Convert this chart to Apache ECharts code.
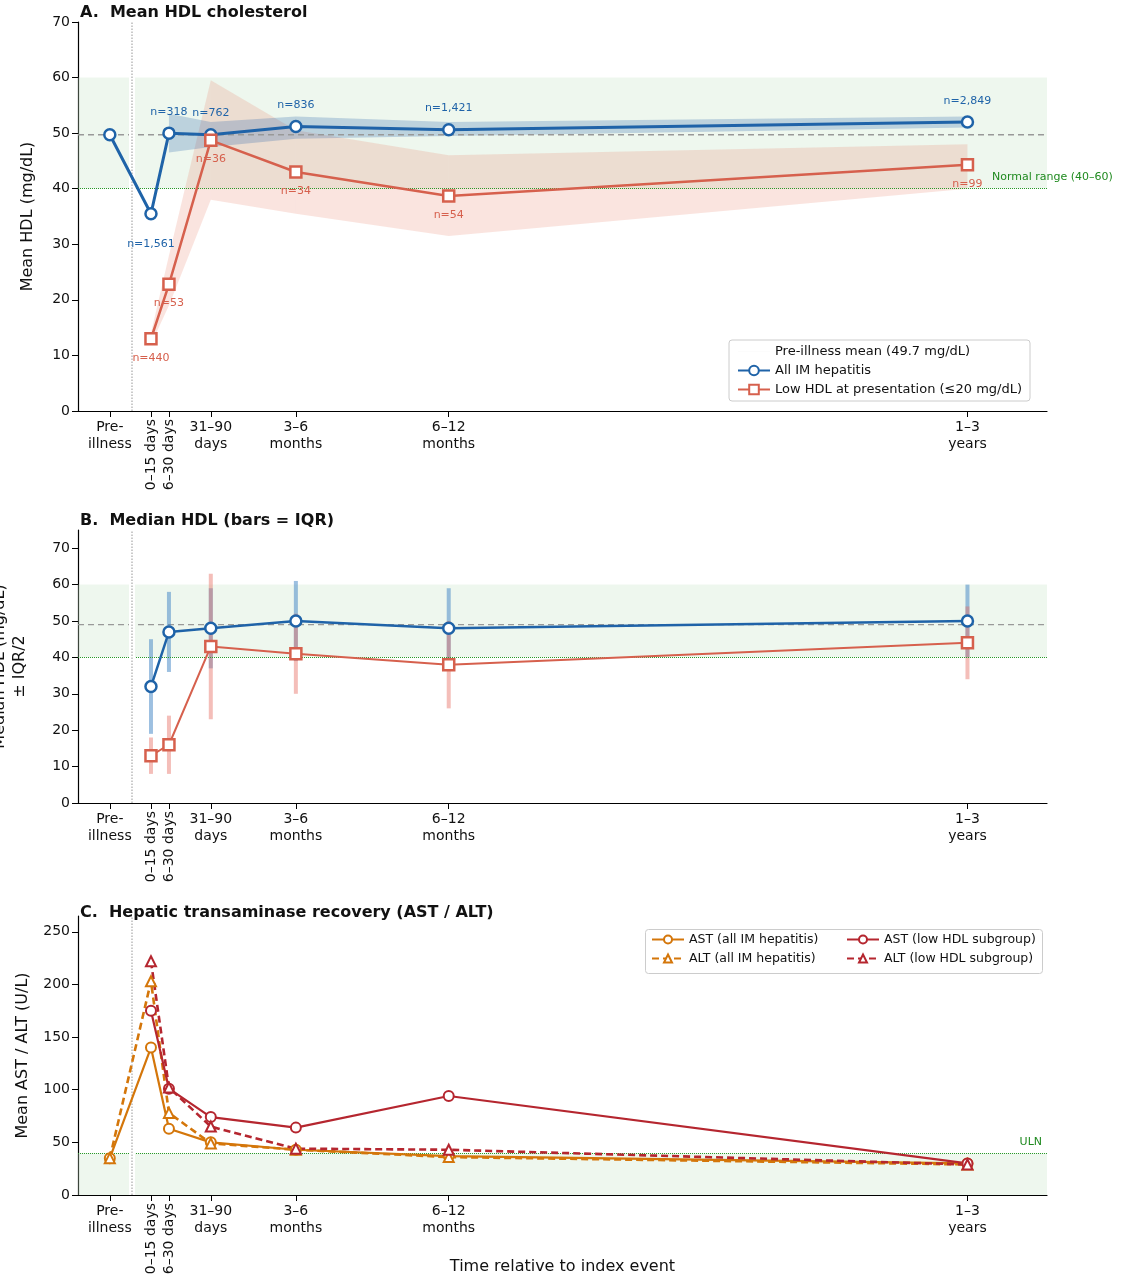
<!DOCTYPE html>
<html><head><meta charset="utf-8">
<script src="https://cdn.jsdelivr.net/npm/echarts@6/dist/echarts.min.js"></script>
<style>html,body{margin:0;background:#fff}#c{width:1125px;height:1280px}</style></head>
<body><div id="c"></div>
<script>
// x positions (plot units, roughly months) and tick labels
const xPos = [-0.8, 0.39, 0.91, 2.12, 4.58, 9.0, 24.0];
const xLabels = ['Pre-\nillness', '0–15 days', '6–30 days', '31–90\ndays', '3–6\nmonths', '6–12\nmonths', '1–3\nyears'];
const xMin = -1.72, xMax = 26.3, indexX = -0.16;

// Panel A
const hdlAll = [49.7, 35.5, 50.0, 49.7, 51.2, 50.6, 52.0];
const hdlAllN = ['', 'n=1,561', 'n=318', 'n=762', 'n=836', 'n=1,421', 'n=2,849'];
const hdlAllLo = [null, null, 46.5, 47.5, 49.0, 49.5, 51.0];
const hdlAllHi = [null, null, 53.5, 52.0, 53.0, 52.0, 53.0];
const hdlLow = [null, 13.0, 22.8, 48.7, 43.0, 38.7, 44.3];
const hdlLowN = ['', 'n=440', 'n=53', 'n=36', 'n=34', 'n=54', 'n=99'];
const hdlLowLo = [null, 12.0, 19.0, 38.0, 35.5, 31.5, 40.0];
const hdlLowHi = [null, 14.0, 28.0, 59.5, 50.5, 46.0, 48.0];
const preMeanA = 49.7;

// Panel B
const medAll = [null, 32, 47, 48, 50, 48, 50];
const iqrAllLo = [null, 19, 36, 37, 39, 37, 40];
const iqrAllHi = [null, 45, 58, 59, 61, 59, 60];
const medLow = [null, 13, 16, 43, 41, 38, 44];
const iqrLowLo = [null, 8, 8, 23, 30, 26, 34];
const iqrLowHi = [null, 18, 24, 63, 52, 50, 54];
const preMedB = 49;

// Panel C
const astAll = [35, 140, 63, 50, 43, 37, 30];
const altAll = [35, 203, 78, 49, 43, 36, 29];
const astLow = [null, 175, 101, 74, 64, 94, 30];
const altLow = [null, 222, 102, 65, 44, 43, 29];
const uln = 40;

const FONT = 'DejaVu Sans';
const BLUE = '#1f63a8', RED = '#d6604d', ORANGE = '#d4760a', DRED = '#b5262f';
const pts = arr => arr.map((v, i) => v == null ? null : [xPos[i], v]).filter(Boolean);

const grids = [
  {left: 78, right: 78, top: 22, height: 389, outerBoundsMode: 'none', containLabel: false},
  {left: 78, right: 78, top: 530, height: 273, outerBoundsMode: 'none', containLabel: false},
  {left: 78, right: 78, top: 916, height: 279, outerBoundsMode: 'none', containLabel: false}
];
const xAxes = [], yAxes = [];
grids.forEach((g, gi) => {
  xAxes.push({type: 'value', gridIndex: gi, min: xMin, max: xMax,
    axisLine: {show: true, onZero: false, lineStyle: {color: '#000', width: 1.2}},
    axisTick: {show: true, length: 6, customValues: xPos, lineStyle: {color: '#000'}},
    axisLabel: {customValues: [xPos[0], xPos[3], xPos[4], xPos[5], xPos[6]], fontFamily: FONT, fontSize: 14, color: '#111', lineHeight: 17,
      formatter: v => xLabels[xPos.indexOf(v)]},
    splitLine: {show: false},
    name: gi === 2 ? 'Time relative to index event' : '', nameLocation: 'middle', nameGap: 64,
    nameTextStyle: {fontFamily: FONT, fontSize: 16, color: '#111'}});
  xAxes.push({type: 'value', gridIndex: gi, min: xMin, max: xMax, position: 'bottom',
    axisLine: {show: false, onZero: false}, axisTick: {show: false}, splitLine: {show: false},
    axisLabel: {customValues: [xPos[1], xPos[2]], rotate: 90, fontFamily: FONT, fontSize: 14, color: '#111', margin: 8,
      formatter: v => xLabels[xPos.indexOf(v)]}});
});
const yCfg = [
  {max: 70, name: 'Mean HDL (mg/dL)', gap: 40, interval: 10},
  {max: 75, name: 'Median HDL (mg/dL)\n± IQR/2', gap: 48, interval: 10},
  {max: 265, name: 'Mean AST / ALT (U/L)', gap: 44, interval: 50}
];
yCfg.forEach((c, gi) => yAxes.push({type: 'value', gridIndex: gi, min: 0, max: c.max, interval: c.interval,
  axisLine: {show: true, onZero: false, lineStyle: {color: '#000', width: 1.2}},
  axisTick: {show: true, length: 6, lineStyle: {color: '#000'}},
  axisLabel: {fontFamily: FONT, fontSize: 14, color: '#111', showMaxLabel: c.max % c.interval === 0},
  splitLine: {show: false}, name: c.name, nameLocation: 'middle', nameGap: c.gap,
  nameTextStyle: {fontFamily: FONT, fontSize: 16, color: '#111', lineHeight: 20}}));

const series = [];
function band(gi, lo, hi, color) {
  const segs = [];
  const idx = lo.map((v, i) => v == null ? -1 : i).filter(i => i >= 0);
  for (let k = 0; k < idx.length - 1; k++) {
    const a = idx[k], b = idx[k + 1];
    segs.push([xPos[a], lo[a], hi[a], xPos[b], lo[b], hi[b]]);
  }
  series.push({type: 'custom', xAxisIndex: gi * 2, yAxisIndex: gi, data: segs, silent: true, z: 1,
    renderItem: (p, api) => {
      const p1 = api.coord([api.value(0), api.value(1)]), p2 = api.coord([api.value(3), api.value(4)]);
      const p3 = api.coord([api.value(3), api.value(5)]), p4 = api.coord([api.value(0), api.value(2)]);
      return {type: 'polygon', shape: {points: [p1, p2, p3, p4]}, style: {fill: color}};
    }});
}
function guides(gi, lo, hi, lineY, lineLabel, labelPos) {
  series.push({type: 'line', xAxisIndex: gi * 2, yAxisIndex: gi, data: [], silent: true, z: 0,
    markArea: {silent: true, itemStyle: {color: 'rgba(200,228,200,0.3)'}, data: [[{yAxis: lo, xAxis: xMin}, {yAxis: hi, xAxis: xMax}]]},
    markLine: {silent: true, symbol: 'none', lineStyle: {color: '#2a9a2a', type: 'dotted', width: 1},
      label: {show: !!lineLabel, formatter: lineLabel || '', position: labelPos, color: '#1f8a1f', fontFamily: FONT, fontSize: 11},
      data: [{yAxis: lineY}]}});
}
function indexLine(gi) {
  series.push({type: 'line', xAxisIndex: gi * 2, yAxisIndex: gi, data: [], silent: true, z: 20,
    markLine: {silent: true, symbol: 'none', label: {show: false}, lineStyle: {color: '#fff', type: 'solid', width: 6}, data: [{xAxis: indexX}]}});
  series.push({type: 'line', xAxisIndex: gi * 2, yAxisIndex: gi, data: [], silent: true, z: 21,
    markLine: {silent: true, symbol: 'none', label: {show: false}, lineStyle: {color: '#bbb', type: 'dotted', width: 1.5}, data: [{xAxis: indexX}]}});
}

// Panel A
guides(0, 40, 60, 40, '', 'end');
series.push({type: 'line', xAxisIndex: 0, yAxisIndex: 0, data: [], silent: true,
  markPoint: {silent: true, symbol: 'circle', symbolSize: 0, data: [{coord: [xMax, 40]}],
    label: {show: true, formatter: 'Normal range (40–60)', position: 'inside', align: 'left', offset: [-55, -12], color: '#1f8a1f', fontFamily: FONT, fontSize: 11}}});
band(0, hdlLowLo, hdlLowHi, 'rgba(230,130,110,0.22)');
band(0, hdlAllLo, hdlAllHi, 'rgba(40,100,170,0.25)');
series.push({name: 'Pre-illness mean (49.7 mg/dL)', type: 'line', xAxisIndex: 0, yAxisIndex: 0, data: [[xMin, preMeanA], [xMax, preMeanA]],
  symbol: 'none', lineStyle: {color: '#999', type: [6, 4], width: 1.4}, itemStyle: {color: '#999'}, z: 2});
series.push({name: 'All IM hepatitis', type: 'line', xAxisIndex: 0, yAxisIndex: 0, z: 5,
  data: hdlAll.map((v, i) => ({value: [xPos[i], v], label: {show: !!hdlAllN[i], formatter: hdlAllN[i], position: 'top', offset: i === 1 ? [0, 48] : [0, -4]}})),
  symbol: 'circle', symbolSize: 11, lineStyle: {color: BLUE, width: 3}, itemStyle: {color: '#fff', borderColor: BLUE, borderWidth: 2.5},
  label: {color: BLUE, fontFamily: FONT, fontSize: 11}});
series.push({name: 'Low HDL at presentation (≤20 mg/dL)', type: 'line', xAxisIndex: 0, yAxisIndex: 0, z: 6,
  data: hdlLow.map((v, i) => v == null ? null : ({value: [xPos[i], v], label: {show: true, formatter: hdlLowN[i], position: 'bottom', offset: [0, 2]}})).filter(Boolean),
  symbol: 'rect', symbolSize: 11, lineStyle: {color: RED, width: 2.5}, itemStyle: {color: '#fff', borderColor: RED, borderWidth: 2.5},
  label: {color: RED, fontFamily: FONT, fontSize: 11}});
indexLine(0);

// Panel B
guides(1, 40, 60, 40, '', 'end');
series.push({type: 'line', xAxisIndex: 2, yAxisIndex: 1, data: [[xMin, preMedB], [xMax, preMedB]], symbol: 'none', lineStyle: {color: '#999', type: [6, 4], width: 1.4}, z: 2, silent: true});
function errBars(lo, hi, color) {
  series.push({type: 'custom', xAxisIndex: 2, yAxisIndex: 1, z: 3, silent: true,
    data: lo.map((v, i) => v == null ? null : [xPos[i], v, hi[i]]).filter(Boolean),
    renderItem: (p, api) => {
      const a = api.coord([api.value(0), api.value(1)]), b = api.coord([api.value(0), api.value(2)]);
      return {type: 'line', shape: {x1: a[0], y1: a[1], x2: b[0], y2: b[1]}, style: {stroke: color, lineWidth: 4}};
    }});
}
errBars(iqrAllLo, iqrAllHi, 'rgba(60,130,195,0.5)');
errBars(iqrLowLo, iqrLowHi, 'rgba(230,110,100,0.45)');
series.push({type: 'line', xAxisIndex: 2, yAxisIndex: 1, data: pts(medAll), z: 5, symbol: 'circle', symbolSize: 11,
  lineStyle: {color: BLUE, width: 2.5}, itemStyle: {color: '#fff', borderColor: BLUE, borderWidth: 2.5}});
series.push({type: 'line', xAxisIndex: 2, yAxisIndex: 1, data: pts(medLow), z: 6, symbol: 'rect', symbolSize: 11,
  lineStyle: {color: RED, width: 2}, itemStyle: {color: '#fff', borderColor: RED, borderWidth: 2.5}});
indexLine(1);

// Panel C
guides(2, 0, 40, uln, 'ULN', 'insideEndTop');
function cLine(name, arr, color, dashed, sym, width) {
  series.push({name, type: 'line', xAxisIndex: 4, yAxisIndex: 2, data: pts(arr), z: 5, symbol: sym, symbolSize: 10,
    lineStyle: {color, width, type: dashed ? [7, 4] : 'solid'}, itemStyle: {color: '#fff', borderColor: color, borderWidth: 2}});
}
cLine('AST (all IM hepatitis)', astAll, ORANGE, false, 'circle', 2.2);
cLine('ALT (all IM hepatitis)', altAll, ORANGE, true, 'triangle', 2.6);
cLine('AST (low HDL subgroup)', astLow, DRED, false, 'circle', 2.2);
cLine('ALT (low HDL subgroup)', altLow, DRED, true, 'triangle', 2.6);
indexLine(2);

const legText = {fontFamily: FONT, fontSize: 13, color: '#111'};
const option = {
  animation: false,
  backgroundColor: '#fff',
  title: [
    {text: 'A.  Mean HDL cholesterol', left: 75, top: 0, textStyle: {fontFamily: FONT, fontSize: 16, fontWeight: 'bold', color: '#111'}},
    {text: 'B.  Median HDL (bars = IQR)', left: 75, top: 508, textStyle: {fontFamily: FONT, fontSize: 16, fontWeight: 'bold', color: '#111'}},
    {text: 'C.  Hepatic transaminase recovery (AST / ALT)', left: 75, top: 900, textStyle: {fontFamily: FONT, fontSize: 16, fontWeight: 'bold', color: '#111'}}
  ],
  grid: grids,
  xAxis: xAxes,
  yAxis: yAxes,
  legend: [
    {data: [{name: 'Pre-illness mean (49.7 mg/dL)', icon: 'path://M0,0L1,0L1,0.001L0,0.001Z'}, 'All IM hepatitis', 'Low HDL at presentation (≤20 mg/dL)'], orient: 'vertical', left: 729, top: 340,
      itemWidth: 32, itemHeight: 12, itemGap: 6, padding: [5, 8], borderColor: '#ccc', borderWidth: 1, borderRadius: 3, textStyle: legText},
    {data: ['AST (all IM hepatitis)', 'ALT (all IM hepatitis)'], orient: 'vertical', left: 645, top: 929,
      itemWidth: 32, itemHeight: 10, itemGap: 6, padding: [4, 6], textStyle: {fontFamily: FONT, fontSize: 12.5, color: '#111'}},
    {data: ['AST (low HDL subgroup)', 'ALT (low HDL subgroup)'], orient: 'vertical', left: 840, top: 929,
      itemWidth: 32, itemHeight: 10, itemGap: 6, padding: [4, 6], textStyle: {fontFamily: FONT, fontSize: 12.5, color: '#111'}}
  ],
  graphic: [{type: 'rect', left: 643, top: 927, shape: {width: 397, height: 44, r: 3}, style: {fill: 'none', stroke: '#ccc', lineWidth: 1}}],
  series
};
echarts.init(document.getElementById('c')).setOption(option);
</script></body></html>
